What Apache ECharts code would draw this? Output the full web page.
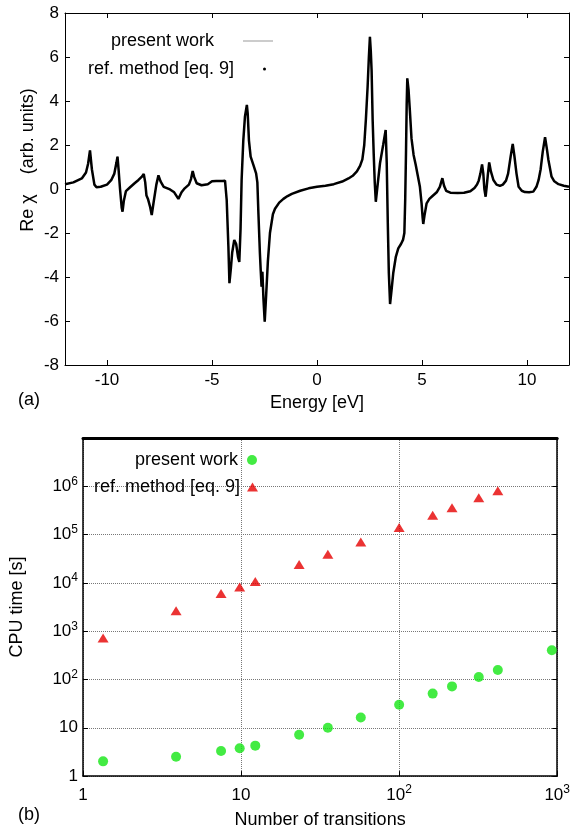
<!DOCTYPE html>
<html>
<head>
<meta charset="utf-8">
<script src="https://cdn.jsdelivr.net/npm/echarts@6/dist/echarts.min.js"></script>
<style>
html,body{margin:0;padding:0;background:#fff;}
#top{position:absolute;left:0;top:0;width:573px;height:420px;}
#bot{position:absolute;left:0;top:420px;width:573px;height:414px;}
</style>
</head>
<body>
<div id="top"></div>
<div id="bot"></div>
<script>
// ---------- Panel (a): Re chi vs energy ----------
const energy = [
-12.0,-11.6,-11.2,-11.0,-10.9,-10.81,-10.72,-10.6,-10.5,-10.3,-10.0,-9.8,-9.65,-9.55,-9.5,-9.45,-9.38,-9.3,-9.26,-9.2,-9.1,
-8.9,-8.7,-8.5,-8.35,-8.25,-8.18,-8.12,-8.05,-7.95,-7.87,-7.78,-7.65,-7.55,-7.45,-7.3,-7.0,-6.8,-6.6,-6.45,-6.3,-6.1,-6.0,
-5.92,-5.85,-5.73,-5.5,-5.2,-5.0,-4.92,-4.8,-4.5,-4.38,-4.3,-4.22,-4.17,-4.1,-4.04,-3.94,-3.85,-3.76,-3.7,-3.64,-3.59,
-3.51,-3.43,-3.34,-3.3,-3.24,-3.16,-3.03,-2.9,-2.84,-2.79,-2.72,-2.68,-2.64,-2.6,-2.55,-2.49,-2.42,-2.34,-2.24,-2.1,-2.0,
-1.8,-1.6,-1.4,-1.2,-0.8,-0.4,0.0,0.4,0.8,1.2,1.5,1.7,1.9,2.05,2.16,2.25,2.33,2.41,2.47,2.52,2.56,2.6,2.65,2.7,2.75,2.8,
2.9,3.0,3.15,3.27,3.32,3.37,3.42,3.48,3.55,3.63,3.75,3.87,4.0,4.1,4.16,4.2,4.24,4.27,4.3,4.36,4.42,4.5,4.6,4.7,4.8,4.9,
4.98,5.03,5.06,5.12,5.22,5.35,5.5,5.7,5.85,5.97,6.05,6.15,6.35,6.7,7.0,7.3,7.5,7.62,7.7,7.78,7.86,7.92,7.97,8.03,8.08,
8.13,8.2,8.28,8.4,8.55,8.71,8.85,9.0,9.1,9.22,9.32,9.4,9.5,9.6,9.75,9.9,10.1,10.3,10.45,10.55,10.65,10.75,10.86,10.95,
11.02,11.17,11.3,11.5,11.75,12.0
];
const reChi = [
0.22,0.30,0.48,0.75,1.15,1.75,0.9,0.2,0.08,0.1,0.2,0.4,0.7,1.2,1.47,0.9,0.0,-0.85,-1.03,-0.55,-0.1,
0.08,0.25,0.41,0.55,0.68,0.3,-0.3,-0.45,-0.8,-1.18,-0.6,0.2,0.62,0.35,0.1,-0.02,-0.15,-0.45,-0.15,0.03,0.2,0.45,
0.82,0.55,0.26,0.17,0.22,0.35,0.42,0.36,0.36,0.38,-0.5,-2.6,-4.28,-3.6,-2.9,-2.32,-2.5,-3.1,-3.32,-1.8,0.4,
2.2,3.3,3.82,3.44,2.2,1.47,1.1,0.71,0.3,-1.1,-2.9,-3.7,-4.44,-3.76,-5.0,-6.03,-4.8,-3.3,-2.0,-1.15,-0.9,
-0.62,-0.45,-0.32,-0.22,-0.08,0.03,0.1,0.15,0.22,0.34,0.48,0.6,0.8,1.05,1.35,2.0,3.2,4.65,6.0,6.92,6.3,5.4,3.14,1.6,0.3,-0.58,
0.3,1.17,2.0,2.68,1.2,-1.5,-3.8,-5.23,-4.6,-3.83,-3.1,-2.7,-2.5,-2.3,-2.0,-0.5,1.77,3.8,5.03,4.5,3.6,2.3,1.55,1.1,0.6,0.1,
-0.65,-1.3,-1.59,-1.2,-0.65,-0.45,-0.32,-0.15,0.1,0.49,0.15,-0.08,-0.17,-0.18,-0.17,-0.1,0.05,0.2,0.38,0.7,1.12,0.7,0.0,-0.35,0.1,
0.6,1.21,0.8,0.41,0.2,0.14,0.2,0.38,0.7,1.47,2.05,1.5,0.7,0.1,-0.08,-0.14,-0.15,-0.12,0.1,0.4,0.9,1.7,2.35,1.8,
1.32,0.56,0.35,0.22,0.15,0.1
];
const energyTicks = [-10, -5, 0, 5, 10];

// ---------- Panel (b): CPU time vs number of transitions ----------
const nRef = [1.34, 3.88, 7.47, 9.8, 12.3, 23.3, 35.4, 57.2, 100, 163, 216, 319, 421];
const tRef = [720, 2650, 6000, 8200, 10700, 24000, 39000, 70000, 140000, 252000, 358000, 576000, 806000];
const nPresent = [1.34, 3.88, 7.47, 9.8, 12.3, 23.3, 35.4, 57.2, 100, 163, 216, 319, 421, 925];
const tPresent = [2.02, 2.52, 3.31, 3.76, 4.27, 7.2, 10, 16.3, 30, 51, 72, 113, 157, 403];

const FONT = '"Liberation Sans", Arial, Helvetica, sans-serif';
const txt = (size) => ({ color: '#000', fontFamily: FONT, fontSize: size });

const chiData = energy.map((e, i) => [e, reChi[i]]);

const topChart = echarts.init(document.getElementById('top'), null, { renderer: 'canvas' });
const frameLine = { show: true, onZero: false, lineStyle: { color: '#000', width: 1 } };
topChart.setOption({
  animation: false,
  grid: { left: 65, right: 4, top: 13, height: 352 },
  xAxis: [
    { type: 'value', min: -12, max: 12, position: 'bottom', axisLine: frameLine,
      axisTick: { inside: true, length: 5, customValues: energyTicks, lineStyle: { color: '#000' } },
      axisLabel: Object.assign({ customValues: energyTicks, margin: 7 }, txt(17)),
      splitLine: { show: false },
      name: 'Energy [eV]', nameLocation: 'middle', nameGap: 24, nameTextStyle: txt(18) },
    { type: 'value', min: -12, max: 12, position: 'top', axisLine: frameLine,
      axisTick: { inside: true, length: 5, customValues: energyTicks, lineStyle: { color: '#000' } },
      axisLabel: { show: false }, splitLine: { show: false } }
  ],
  yAxis: [
    { type: 'value', min: -8, max: 8, interval: 2, position: 'left', axisLine: frameLine,
      axisTick: { inside: true, length: 5, lineStyle: { color: '#000' } },
      axisLabel: Object.assign({ margin: 6 }, txt(17)), splitLine: { show: false } },
    { type: 'value', min: -8, max: 8, interval: 2, position: 'right', axisLine: frameLine,
      axisTick: { inside: true, length: 5, lineStyle: { color: '#000' } },
      axisLabel: { show: false }, splitLine: { show: false } }
  ],
  legend: [
    { data: [{ name: 'present work', icon: 'rect' }], right: 300, top: 32, align: 'right', itemWidth: 30, itemHeight: 1,
      padding: 0, selectedMode: false, textStyle: Object.assign({ padding: [0, 24, 0, 0] }, txt(18)) },
    { data: [{ name: 'ref. method [eq. 9]', icon: 'circle' }], right: 307, top: 60, align: 'right',
      itemWidth: 3, itemHeight: 3, padding: 0, selectedMode: false,
      textStyle: Object.assign({ padding: [0, 24, 0, 0] }, txt(18)) }
  ],
  graphic: [
    { type: 'text', x: 28, y: 160, rotation: Math.PI / 2,
      style: { text: 'Re \u03C7    (arb. units)', fill: '#000', font: '18px ' + FONT, align: 'center', verticalAlign: 'middle' } },
    { type: 'text', x: 18, y: 400,
      style: { text: '(a)', fill: '#000', font: '18px ' + FONT, align: 'left', verticalAlign: 'middle' } }
  ],
  series: [
    { name: 'present work', type: 'line', data: chiData, symbol: 'none',
      lineStyle: { color: '#999', width: 1 }, itemStyle: { color: '#999' }, z: 2 },
    { name: 'ref. method [eq. 9]', type: 'line', data: chiData, symbol: 'none',
      lineStyle: { color: '#000', width: 2.5 }, itemStyle: { color: '#000' }, z: 3 }
  ]
});

// ---------- bottom ----------
const supFmt = (v) => {
  const e = Math.round(Math.log10(v));
  if (e === 0) return '1';
  if (e === 1) return '10';
  return '10{s|' + e + '}';
};
const labRich = { s: { fontSize: 12, fontFamily: FONT, color: '#000', verticalAlign: 'top', lineHeight: 12 } };
const gridDot = { show: true, lineStyle: { type: 'dotted', color: '#777', width: 1 } };
const botChart = echarts.init(document.getElementById('bot'), null, { renderer: 'canvas' });
botChart.setOption({
  animation: false,
  grid: { left: 83, right: 15, top: 18, height: 339 },
  xAxis: [
    { type: 'log', logBase: 10, min: 1, max: 1000, position: 'bottom',
      axisLine: { show: true, onZero: false, lineStyle: { color: '#000', width: 1.5 } },
      axisTick: { inside: true, length: 5, lineStyle: { color: '#000' } },
      axisLabel: Object.assign({ formatter: supFmt, rich: labRich, margin: 8, lineHeight: 22 }, txt(17)),
      splitLine: gridDot, minorTick: { show: false },
      name: 'Number of transitions', nameLocation: 'middle', nameGap: 33, nameTextStyle: txt(18) },
    { type: 'log', logBase: 10, min: 1, max: 1000, position: 'top',
      axisLine: { show: true, onZero: false, lineStyle: { color: '#000', width: 3 } },
      axisTick: { show: false }, axisLabel: { show: false }, splitLine: { show: false } }
  ],
  yAxis: [
    { type: 'log', logBase: 10, min: 1, max: 1e7, position: 'left',
      axisLine: { show: true, onZero: false, lineStyle: { color: '#000', width: 1.5 } },
      axisTick: { inside: true, length: 5, lineStyle: { color: '#000' } },
      axisLabel: Object.assign({ formatter: supFmt, rich: labRich, margin: 5, lineHeight: 22, showMaxLabel: false }, txt(17)),
      splitLine: gridDot,
      name: 'CPU time [s]', nameLocation: 'middle', nameGap: 57, nameTextStyle: txt(18) },
    { type: 'log', logBase: 10, min: 1, max: 1e7, position: 'right',
      axisLine: { show: true, onZero: false, lineStyle: { color: '#000', width: 1.5 } },
      axisTick: { inside: true, length: 5, lineStyle: { color: '#000' } },
      axisLabel: { show: false }, splitLine: { show: false } }
  ],
  legend: [
    { data: ['present work'], right: 316, top: 31, align: 'right', itemWidth: 10, itemHeight: 10,
      padding: 0, selectedMode: false, textStyle: Object.assign({ padding: [0, 4, 0, 0] }, txt(18)) },
    { data: ['ref. method [eq. 9]'], right: 315, top: 58, align: 'right', itemWidth: 11, itemHeight: 9,
      padding: 0, selectedMode: false, textStyle: Object.assign({ padding: [0, 2, 0, 0] }, txt(18)) }
  ],
  graphic: [
    { type: 'text', x: 18, y: 395,
      style: { text: '(b)', fill: '#000', font: '18px ' + FONT, align: 'left', verticalAlign: 'middle' } }
  ],
  series: [
    { name: 'present work', type: 'scatter', symbol: 'circle', symbolSize: 10,
      data: nPresent.map((n, i) => [n, tPresent[i]]), itemStyle: { color: '#14e614' }, z: 3 },
    { name: 'ref. method [eq. 9]', type: 'scatter', symbol: 'triangle', symbolSize: [11, 9],
      data: nRef.map((n, i) => [n, tRef[i]]), itemStyle: { color: '#e60000' }, z: 3 }
  ]
});
</script>
</body>
</html>
